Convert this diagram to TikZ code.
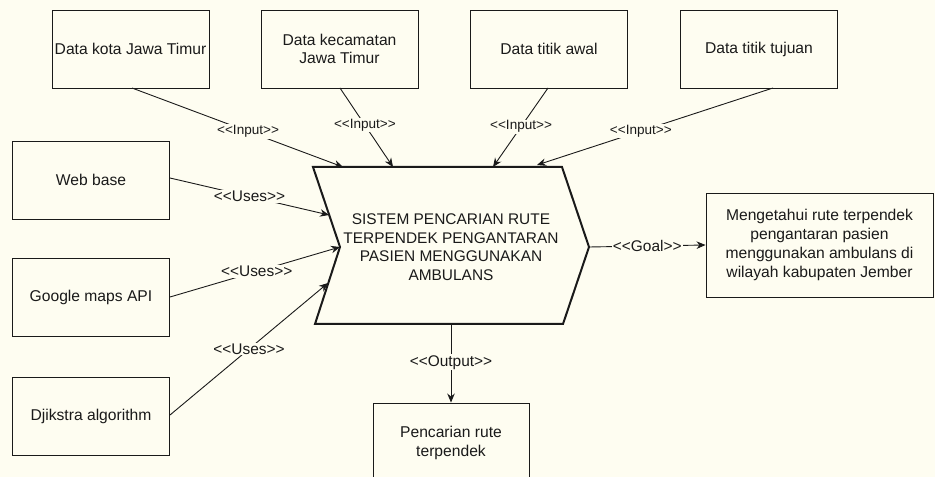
\documentclass[tikz,border=0pt]{standalone}
\usepackage{fontspec}
\setmainfont{Liberation Sans}
\usetikzlibrary{arrows.meta}
\definecolor{paper}{HTML}{FEFDF1}
\definecolor{ink}{HTML}{1A1A1A}

\begin{document}
\begin{tikzpicture}[x=1bp,y=-1bp,
  box/.style={draw=ink, line width=0.9bp, minimum width=157bp, minimum height=78bp,
    align=center, text=ink, inner sep=0pt, font=\fontsize{15.7}{18.8}\selectfont},
  link/.style={draw=ink, line width=0.9bp, -{Stealth[length=9bp,width=7.5bp]}},
  tag/.style={fill=paper, inner sep=1bp, text=ink, font=\fontsize{15.5}{17}\selectfont},
  intag/.style={tag, font=\fontsize{13.6}{15}\selectfont}]

% page
\fill[paper] (0,0) rectangle (935,477);
\useasboundingbox (0,0) rectangle (935,477);

% input data
\node[box] (kota)   at (130.5,49) {Data kota Jawa Timur};
\node[box] (kec)    at (339.5,49) {Data kecamatan\\Jawa Timur};
\node[box] (awal)   at (549,49)   {Data titik awal};
\node[box] (tujuan) at (759,49)   {Data titik tujuan};

% tools used
\node[box] (web)    at (91,180)   {Web base};
\node[box] (gmaps)  at (91,297.5) {Google maps API};
\node[box] (dijk)   at (91,416.5) {Djikstra algorithm};

% goal and output
\node[box, minimum width=227bp, minimum height=104bp] (goal) at (819.5,245)
  {Mengetahui rute terpendek\\pengantaran pasien\\menggunakan ambulans di\\wilayah kabupaten Jember};
\node[box, minimum width=156bp, minimum height=80bp] (out) at (451,443)
  {Pencarian rute\\terpendek};

% the system (arrow-shaped process)
\coordinate (s1) at (313,167);
\coordinate (s2) at (562,167);
\coordinate (s3) at (589,247);
\coordinate (s4) at (563,324);
\coordinate (s5) at (315,324);
\coordinate (s6) at (340,247);
\draw[ink, line width=2bp, line join=miter] (s1) -- (s2) -- (s3) -- (s4) -- (s5) -- (s6) -- cycle;
\node[align=center, text=ink, font=\fontsize{15.5}{18.7}\selectfont] (sys) at (451,247)
  {SISTEM PENCARIAN RUTE\\TERPENDEK PENGANTARAN\\PASIEN MENGGUNAKAN\\AMBULANS};

% connector ends on the system outline
\coordinate (k1) at (132,88);
\coordinate (k2) at (340,88);
\coordinate (k3) at (548,88);
\coordinate (k4) at (773,88);
\coordinate (i1) at (343,167);
\coordinate (i2) at (393,167);
\coordinate (i3) at (493,167);
\coordinate (i4) at (537,165);
\coordinate (w0) at (170,178);
\coordinate (g0) at (170,297);
\coordinate (d0) at (170,415);
\coordinate (u1) at (329,215);
\coordinate (u3) at (328,283);
\coordinate (o0) at (451,324);

% inputs
\draw[link] (k1) -- node[intag, pos=0.55] {<{}<Input>{}>} (i1);
\draw[link] (k2) -- node[intag, pos=0.47] {<{}<Input>{}>} (i2);
\draw[link] (k3) -- node[intag, pos=0.49] {<{}<Input>{}>} (i3);
\draw[link] (k4) -- node[intag, pos=0.56] {<{}<Input>{}>} (i4);

% uses
\draw[link] (w0) -- node[tag, pos=0.5]  {<{}<Uses>{}>} (u1);
\draw[link] (g0) -- node[tag, pos=0.51] {<{}<Uses>{}>} (s6);
\draw[link] (d0) -- node[tag, pos=0.5]  {<{}<Uses>{}>} (u3);

% goal and output
\draw[link] (s3) -- node[tag, pos=0.5] {<{}<Goal>{}>} (goal.west);
\draw[link] (o0) -- node[tag, pos=0.49] {<{}<Output>{}>} (out.north);
\end{tikzpicture}
\end{document}
